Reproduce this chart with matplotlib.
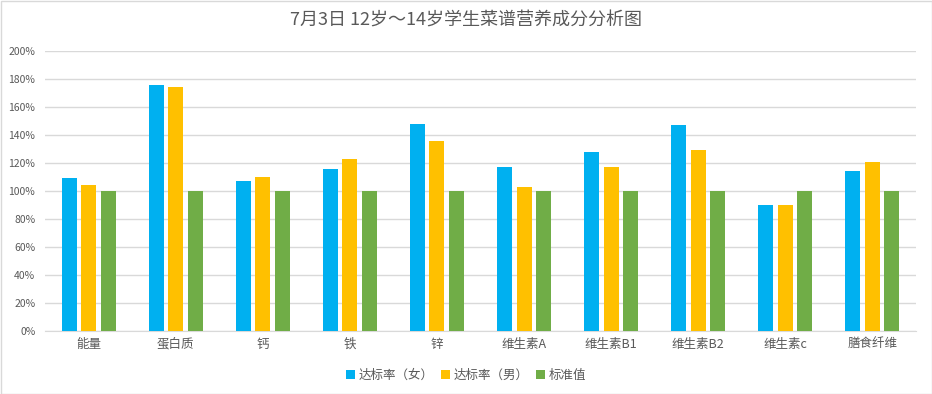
import matplotlib
matplotlib.use("Agg")
import matplotlib.pyplot as plt
import numpy as np
from matplotlib.ticker import FuncFormatter

plt.rcParams['font.family'] = ['Noto Sans CJK SC', 'DejaVu Sans']

categories = ["能量", "蛋白质", "钙", "铁", "锌", "维生素A", "维生素B1", "维生素B2", "维生素c", "膳食纤维"]
female = [109, 176, 107, 116, 148, 117, 128, 147, 90, 114]
male = [104, 174, 110, 123, 136, 103, 117, 129, 90, 121]
standard = [100, 100, 100, 100, 100, 100, 100, 100, 100, 100]
series_names = ["达标率（女）", "达标率（男）", "标准值"]
colors = ["#00B0F0", "#FFC000", "#70AD47"]
title = "7月3日 12岁～14岁学生菜谱营养成分分析图"

W, H = 932, 394
fig = plt.figure(figsize=(W / 100, H / 100), dpi=100)
ax = fig.add_axes([45 / W, (H - 331) / H, (916 - 45) / W, (331 - 51) / H])

x = np.arange(len(categories))
bw = 0.172
step = 0.224
for i, (vals, name, c) in enumerate(zip([female, male, standard], series_names, colors)):
    ax.bar(x + (i - 1) * step, vals, width=bw, color=c, label=name, zorder=3)

ax.set_xlim(-0.5, len(categories) - 0.5)
ax.set_ylim(0, 200)
ax.set_yticks(np.arange(0, 201, 20))
ax.yaxis.set_major_formatter(FuncFormatter(lambda v, p: f"{int(v)}%"))
ax.set_xticks(x)
ax.set_xticklabels(categories)
ax.grid(axis='y', color='#D9D9D9', linewidth=1, zorder=0)
for s in ['top', 'right', 'left']:
    ax.spines[s].set_visible(False)
ax.spines['bottom'].set_color('#D9D9D9')
ax.tick_params(axis='both', length=0, colors='#595959')
ax.tick_params(axis='y', labelsize=7.5, pad=7)
ax.tick_params(axis='x', labelsize=9, pad=5)

fig.text(466 / W, 1 - 21 / H, title, ha='center', va='center', fontsize=13, color='#595959')

leg = fig.legend(loc='center', bbox_to_anchor=(466 / W, 1 - 375 / H), ncol=3, frameon=False,
                 fontsize=9, handlelength=0.7, handleheight=0.7, handletextpad=0.3,
                 columnspacing=0.6, labelcolor='#595959')

fig.patches.append(plt.Rectangle((0.5 / W, 0.5 / H), 1 - 1 / W, 1 - 1 / H, transform=fig.transFigure,
                                 fill=False, edgecolor='#D9D9D9', linewidth=1))

fig.savefig("out.png", dpi=100)
